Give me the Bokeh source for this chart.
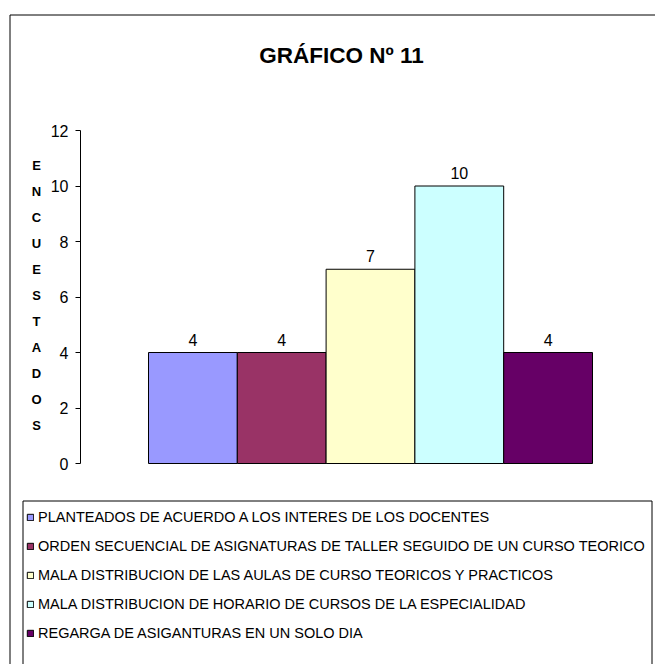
from bokeh.plotting import figure
from bokeh.models import (ColumnDataSource, LabelSet, Label, BoxAnnotation,
                          Legend, LegendItem, FixedTicker)
from bokeh.core.properties import value
from bokeh.embed import file_html
from bokeh.resources import INLINE

# ---- data ----
title_text = "GRÁFICO Nº 11"
y_label = "ENCUESTADOS"
categories = [
    "PLANTEADOS DE ACUERDO A LOS INTERES DE LOS DOCENTES",
    "ORDEN SECUENCIAL DE ASIGNATURAS DE TALLER SEGUIDO DE UN CURSO TEORICO",
    "MALA DISTRIBUCION DE LAS AULAS DE CURSO TEORICOS Y PRACTICOS",
    "MALA DISTRIBUCION DE HORARIO DE CURSOS DE LA ESPECIALIDAD",
    "REGARGA DE ASIGANTURAS EN UN SOLO DIA",
]
values = [4, 4, 7, 10, 4]
colors = ["#9999FF", "#993366", "#FFFFCC", "#CCFFFF", "#660066"]
y_ticks = [0, 2, 4, 6, 8, 10, 12]

# ---- geometry: the frame covers the whole canvas ----
W, H = 655, 664
BAR_LEFT_PX, PX_PER_BAR = 148.0, 88.8     # page x of first bar's left edge, bar width px
ZERO_PX, PX_PER_UNIT = 463.0, 27.75        # page y of value 0, px per unit

def xd(px):
    return (px - BAR_LEFT_PX) / PX_PER_BAR

def yd(py):
    return (ZERO_PX - py) / PX_PER_UNIT

FONT = "Liberation Sans"

p = figure(width=W, height=H, output_backend="svg", toolbar_location=None,
           x_range=(xd(0), xd(W)), y_range=(yd(H), yd(0)),
           x_axis_location=None, min_border=0)
p.xgrid.visible = False
p.ygrid.visible = False
p.outline_line_color = None
p.background_fill_color = "white"
p.border_fill_color = "white"

yax = p.yaxis[0]
yax.fixed_location = xd(80)
yax.bounds = (y_ticks[0], y_ticks[-1])
yax.ticker = FixedTicker(ticks=y_ticks)
yax.major_tick_out = 5
yax.major_tick_in = 0
yax.minor_tick_out = 0
yax.minor_tick_in = 0
yax.axis_line_color = "black"
yax.major_tick_line_color = "black"
yax.major_label_text_font = FONT
yax.major_label_text_font_size = "16px"
yax.major_label_text_color = "black"
yax.major_label_standoff = 7

xs = [i + 0.5 for i in range(len(values))]
src = ColumnDataSource(dict(x=xs, top=values, color=colors,
                            label=[str(v) for v in values]))
bars = p.vbar(x="x", top="top", bottom=0, width=1, fill_color="color",
              line_color="black", line_width=1, source=src)

labels = LabelSet(x="x", y="top", text="label", source=src, text_align="center",
                  text_baseline="alphabetic", y_offset=7, text_font=value(FONT),
                  text_font_size=value("16px"), text_color="black")
p.add_layout(labels)

# title
p.add_layout(Label(x=xd(341), y=yd(55), text=title_text, text_align="center",
                   text_baseline="middle", text_font=FONT, text_font_size="22.5px",
                   text_font_style="bold", text_color="black"))
# stacked y-axis title
p.add_layout(Label(x=xd(36), y=yd(295), text="\n".join(y_label), text_align="center",
                   text_baseline="middle", text_font=FONT, text_font_size="13px",
                   text_font_style="bold", text_line_height=1.733, text_color="black"))

# legend
items = [LegendItem(label=c, renderers=[bars], index=i) for i, c in enumerate(categories)]
legend = Legend(items=items, location=(22, H - 650), orientation="vertical",
                glyph_width=8, glyph_height=8, label_height=26, spacing=3,
                padding=4, margin=0, label_standoff=4,
                label_text_font=FONT, label_text_font_size="14.5px",
                label_text_color="black", border_line_alpha=0,
                background_fill_alpha=0)
p.add_layout(legend)

# outer chart border and legend box (half-pixel positions for crisp 1px lines)
p.add_layout(BoxAnnotation(left=xd(9.5), top=yd(14.5), right=xd(W + 50), bottom=yd(H + 50),
                           fill_alpha=0, line_color="black", line_alpha=1, line_width=1))
p.add_layout(BoxAnnotation(left=xd(22.5), top=yd(500.5), right=xd(651.5), bottom=yd(H + 50),
                           fill_alpha=0, line_color="black", line_alpha=1, line_width=1))

open("out.html", "w").write(file_html(p, INLINE))
